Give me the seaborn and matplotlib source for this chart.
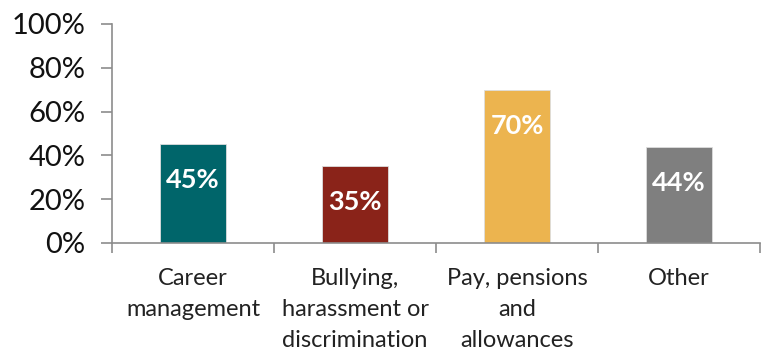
import matplotlib
matplotlib.use("Agg")
import matplotlib.pyplot as plt
import seaborn as sns
import pandas as pd
from matplotlib.ticker import FixedLocator, PercentFormatter

categories = ["Career\nmanagement", "Bullying,\nharassment or\ndiscrimination",
              "Pay, pensions\nand\nallowances", "Other"]
values = [45, 35, 70, 44]
colors = ["#00656A", "#8A2319", "#ECB44F", "#7F7F7F"]
yticks = [0, 20, 40, 60, 80, 100]

sns.set_theme(style="white")
plt.rcParams["font.family"] = ["Lato", "DejaVu Sans"]

df = pd.DataFrame({"cat": categories, "val": values})

fig = plt.figure(figsize=(7.67, 3.52), dpi=100)
ax = fig.add_axes([0.146, 0.31, 0.845, 0.622])
sns.barplot(data=df, x="cat", y="val", hue="cat", palette=colors, legend=False,
            width=0.41, ax=ax, edgecolor="#dddddd", linewidth=0.6, saturation=1)

ax.set_ylim(0, 100)
ax.set_xlim(-0.5, 3.5)
ax.yaxis.set_major_locator(FixedLocator(yticks))
ax.yaxis.set_major_formatter(PercentFormatter(decimals=0))
ax.set_xlabel("")
ax.set_ylabel("")

for s in ["top", "right"]:
    ax.spines[s].set_visible(False)
for s in ["left", "bottom"]:
    ax.spines[s].set_color("#8c8c8c")
    ax.spines[s].set_linewidth(1.2)

ax.tick_params(axis="y", which="major", direction="out", length=8, width=1.2,
               color="#8c8c8c", labelsize=21, labelcolor="#111111", pad=11, left=True)
ax.tick_params(axis="x", which="major", length=0, labelsize=17, labelcolor="#222222", pad=18)
ax.set_xticks([-0.5, 0.5, 1.5, 2.5, 3.5], minor=True)
ax.tick_params(axis="x", which="minor", direction="out", length=7, width=1.2,
               color="#8c8c8c", bottom=True)
for lab in ax.get_xticklabels():
    lab.set_linespacing(1.58)
    lab.set_verticalalignment("top")

for i, v in enumerate(values):
    ax.annotate(f"{v}%", xy=(i, v), xytext=(0, -36), textcoords="offset pixels",
                ha="center", va="center", color="white", fontsize=19.5, fontweight="bold")

fig.savefig("out.png", dpi=100)
